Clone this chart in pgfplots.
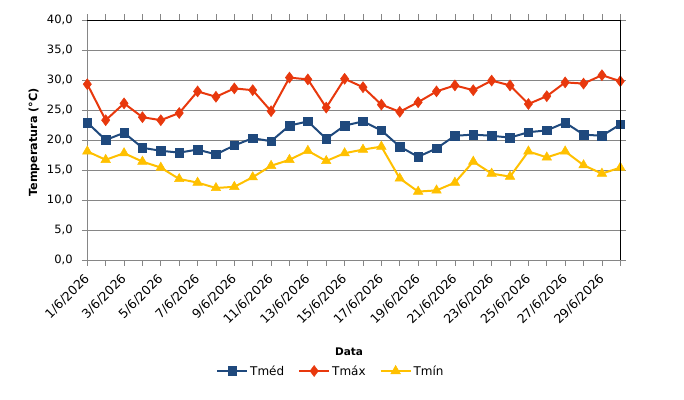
\documentclass[border=0pt]{standalone}
\usepackage{pgfplots}
\pgfplotsset{compat=1.18}
\usepackage{fontspec}
\setmainfont{DejaVu Sans}
\definecolor{cmed}{RGB}{31,73,125}
\definecolor{cmax}{RGB}{232,56,13}
\definecolor{cmin}{RGB}{255,192,0}
\definecolor{gridc}{RGB}{134,134,134}
\begin{document}
\begin{tikzpicture}
\path[use as bounding box] (0,0) rectangle (684bp,400bp);
\begin{axis}[
  at={(87.3bp,140bp)}, anchor=south west,
  scale only axis, width=533bp, height=240bp,
  xmin=1, xmax=30, ymin=0, ymax=40,
  xtick={1,...,30},
  xticklabels={1/6/2026,,3/6/2026,,5/6/2026,,7/6/2026,,9/6/2026,,11/6/2026,,13/6/2026,,15/6/2026,,17/6/2026,,19/6/2026,,21/6/2026,,23/6/2026,,25/6/2026,,27/6/2026,,29/6/2026,},
  ytick={0,5,...,40},
  /pgf/number format/assume math mode=true,
  y tick label style={/pgf/number format/fixed, /pgf/number format/fixed zerofill, /pgf/number format/precision=1, /pgf/number format/use comma, inner sep=0bp, font=\fontsize{11.5bp}{13bp}\selectfont},
  yticklabel shift=9bp,
  x tick label style={rotate=45, anchor=east, inner sep=0bp, font=\fontsize{12.5bp}{14bp}\selectfont},
  xticklabel shift=11bp,
  tick align=outside, major tick length=5.5bp,
  tick style={gridc, line width=0.75bp},
  axis line style={gridc, line width=0.75bp},
  ymajorgrids, grid style={gridc, line width=0.75bp},
  xlabel={Data}, ylabel={Temperatura (°C)},
  label style={font=\bfseries\fontsize{10.5bp}{12bp}\selectfont},
  xlabel style={at={(axis description cs:0.491,-0.383)}, anchor=center},
  ylabel style={at={(axis description cs:-0.1,0.49)}, anchor=center, rotate=0, font=\bfseries\fontsize{11.2bp}{13bp}\selectfont},
  legend style={at={(axis description cs:0.457,-0.4625)}, anchor=center, draw=none, fill=none,
    font=\fontsize{12bp}{14bp}\selectfont, legend columns=3, inner sep=0pt,
    /tikz/every even column/.append style={column sep=12bp},
    /tikz/every odd column/.append style={column sep=0bp}},
  legend image code/.code={\draw[mark repeat=2,mark phase=2] plot coordinates {(0bp,0bp) (15bp,0bp) (30bp,0bp)};},
  every axis plot/.append style={line width=2bp},
  clip=false,
]
\addplot[cmed, mark=square*, mark size=4.3bp, mark options={solid, fill=cmed, line width=0.5bp}] coordinates {
(1,22.9)(2,20.0)(3,21.2)(4,18.7)(5,18.2)(6,17.9)(7,18.4)(8,17.6)(9,19.1)(10,20.3)
(11,19.8)(12,22.4)(13,23.1)(14,20.2)(15,22.4)(16,23.1)(17,21.6)(18,18.9)(19,17.2)(20,18.6)
(21,20.7)(22,20.9)(23,20.7)(24,20.4)(25,21.3)(26,21.6)(27,22.9)(28,20.9)(29,20.7)(30,22.6)};
\addlegendentry{Tméd}
\addplot[cmax, mark=diamond*, mark size=5.5bp, mark options={solid, fill=cmax, line width=0.5bp}] coordinates {
(1,29.3)(2,23.3)(3,26.1)(4,23.8)(5,23.3)(6,24.5)(7,28.1)(8,27.2)(9,28.6)(10,28.3)
(11,24.8)(12,30.4)(13,30.1)(14,25.4)(15,30.2)(16,28.8)(17,25.9)(18,24.7)(19,26.3)(20,28.1)
(21,29.1)(22,28.3)(23,29.9)(24,29.1)(25,26.0)(26,27.3)(27,29.6)(28,29.4)(29,30.8)(30,29.8)};
\addlegendentry{Tmáx}
\addplot[cmin, mark=triangle*, mark size=5.5bp, mark options={solid, fill=cmin, line width=0.5bp}] coordinates {
(1,18.1)(2,16.7)(3,17.8)(4,16.4)(5,15.4)(6,13.5)(7,12.9)(8,12.0)(9,12.2)(10,13.8)
(11,15.7)(12,16.7)(13,18.2)(14,16.5)(15,17.8)(16,18.4)(17,18.9)(18,13.6)(19,11.4)(20,11.6)
(21,12.9)(22,16.4)(23,14.4)(24,13.9)(25,18.1)(26,17.1)(27,18.1)(28,15.8)(29,14.4)(30,15.4)};
\addlegendentry{Tmín}
\end{axis}
\draw[black, line width=0.9bp] (87.3bp,380bp) -- (620.3bp,380bp) -- (620.3bp,140bp);
\end{tikzpicture}
\end{document}
